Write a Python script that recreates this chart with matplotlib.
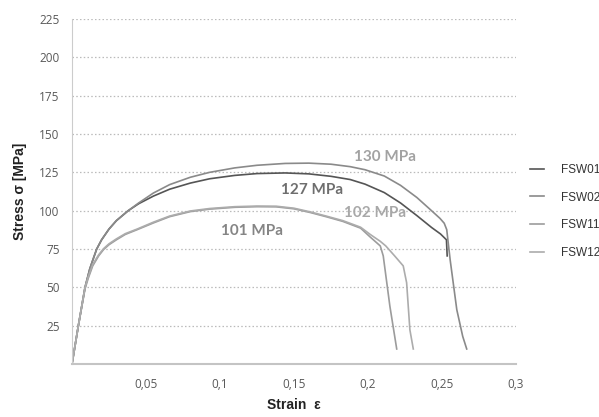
import matplotlib
matplotlib.use("Agg")
import matplotlib.pyplot as plt

# strain / stress values
strain_01 = [0, 0.0043, 0.0088, 0.012, 0.0145, 0.0167, 0.020, 0.025, 0.030, 0.038,
             0.045, 0.055, 0.066, 0.080, 0.093, 0.110, 0.125, 0.144, 0.160, 0.175,
             0.188, 0.198, 0.211, 0.222, 0.233, 0.243, 0.249, 0.253, 0.2535]
stress_01 = [0, 25, 50, 62, 69, 75, 81, 88, 93.5, 100,
             104.5, 109.5, 114, 118, 120.8, 123, 124.2, 124.6, 124, 122.4,
             120.3, 117.3, 111.8, 105, 96.8, 89, 84.8, 81, 70.5]

strain_02 = [0, 0.0043, 0.0088, 0.012, 0.0145, 0.0167, 0.020, 0.025, 0.030, 0.038,
             0.045, 0.055, 0.066, 0.080, 0.093, 0.110, 0.125, 0.144, 0.160, 0.175,
             0.188, 0.198, 0.211, 0.222, 0.233, 0.242, 0.2486, 0.2515, 0.2532, 0.2555,
             0.2600, 0.2640, 0.2667]
stress_02 = [0, 25, 50, 62, 69, 75, 81, 88, 93.5, 100,
             105, 111.5, 117, 121.8, 125, 127.9, 129.6, 130.8, 131, 130.3,
             128.7, 126.7, 122.6, 116.5, 108.6, 100.8, 95, 91.8, 87.6, 68,
             35.4, 18, 9.8]

strain_11 = [0, 0.0043, 0.0088, 0.011, 0.014, 0.018, 0.0213, 0.025, 0.030, 0.036,
             0.044, 0.055, 0.066, 0.080, 0.093, 0.110, 0.125, 0.138, 0.150, 0.161,
             0.172, 0.183, 0.195, 0.2015, 0.2083, 0.2103, 0.2148, 0.2194]
stress_11 = [0, 25, 49, 56, 64, 70.5, 74.6, 77.8, 81, 84.5,
             87.6, 92, 96.1, 99.4, 101, 102.2, 102.6, 102.5, 101.2, 98.8,
             96, 93, 88.6, 82.8, 77, 70.5, 37.6, 9.8]

strain_12 = [0, 0.0043, 0.0088, 0.011, 0.014, 0.018, 0.0213, 0.025, 0.030, 0.036,
             0.044, 0.055, 0.066, 0.080, 0.093, 0.110, 0.125, 0.138, 0.150, 0.161,
             0.172, 0.183, 0.195, 0.2015, 0.2083, 0.212, 0.218, 0.2238, 0.2261,
             0.2283, 0.2306]
stress_12 = [0, 25, 50, 57, 65, 71.2, 75.2, 78.4, 81.6, 85,
             88, 92.5, 96.5, 99.8, 101.4, 102.6, 103, 102.9, 101.6, 99.2,
             96.4, 93.5, 89.2, 84.5, 80, 77, 70.5, 64, 53,
             22.3, 9.8]

labels = ["FSW01", "FSW02", "FSW11", "FSW12"]
colors = ["#555555", "#8a8a8a", "#9c9c9c", "#acacac"]

peak_text = ["130 MPa", "127 MPa", "102 MPa", "101 MPa"]
peak_pos = [(0.2116, 134.8), (0.1625, 113.3), (0.2045, 98.7), (0.1215, 86.5)]
peak_col = ["#a2a2a2", "#6e6e6e", "#a8a8a8", "#858585"]

xticks = [0.05, 0.1, 0.15, 0.2, 0.25, 0.3]
xtick_labels = ["0,05", "0,1", "0,15", "0,2", "0,25", "0,3"]
yticks = [25, 50, 75, 100, 125, 150, 175, 200, 225]

fig = plt.figure(figsize=(5.99, 4.17), dpi=100)
ax = fig.add_axes([72 / 599, 53 / 417, 444 / 599, 345 / 417])

series = [(strain_01, stress_01), (strain_02, stress_02),
          (strain_11, stress_11), (strain_12, stress_12)]
for (x, y), lab, c in zip(series, labels, colors):
    ax.plot(x, y, color=c, lw=1.2, label=lab, solid_joinstyle="round")

for txt, (px, py), c in zip(peak_text, peak_pos, peak_col):
    ax.text(px, py, txt, color=c, fontsize=11, fontweight="bold",
            family="Lato", ha="center", va="center")

ax.set_xlim(0, 0.3)
ax.set_ylim(0, 225)
ax.set_xticks(xticks)
ax.set_xticklabels(xtick_labels)
ax.set_yticks(yticks)
ax.tick_params(length=0, labelsize=8.5, labelcolor="#595959")
ax.tick_params(axis="y", pad=9)
ax.tick_params(axis="x", pad=10)
for t in ax.get_xticklabels() + ax.get_yticklabels():
    t.set_family("Open Sans")

ax.grid(axis="y", ls=(0, (1.2, 1.8)), color="#bbbbbb", lw=0.9)
ax.set_axisbelow(True)
for s in ["top", "right"]:
    ax.spines[s].set_visible(False)
ax.spines["left"].set_color("#cccccc")
ax.spines["bottom"].set_color("#c4c4c4")
ax.spines["bottom"].set_linewidth(1.5)

ax.set_ylabel("Stress σ [MPa]", fontsize=10, fontweight="bold",
              family="Liberation Sans", color="#222222", labelpad=9)
ax.set_xlabel("Strain  ε", fontsize=10, fontweight="bold",
              family="Liberation Sans", color="#222222", labelpad=5)

leg = fig.legend(loc="upper left", bbox_to_anchor=(530 / 599, 1 - 164 / 417),
                 frameon=False, handlelength=1.2, handletextpad=1.4,
                 labelspacing=1.32, borderpad=0, borderaxespad=0,
                 prop={"family": "Liberation Sans", "size": 8.5})
for t in leg.get_texts():
    t.set_color("#333333")

fig.savefig("out.png", dpi=100)
